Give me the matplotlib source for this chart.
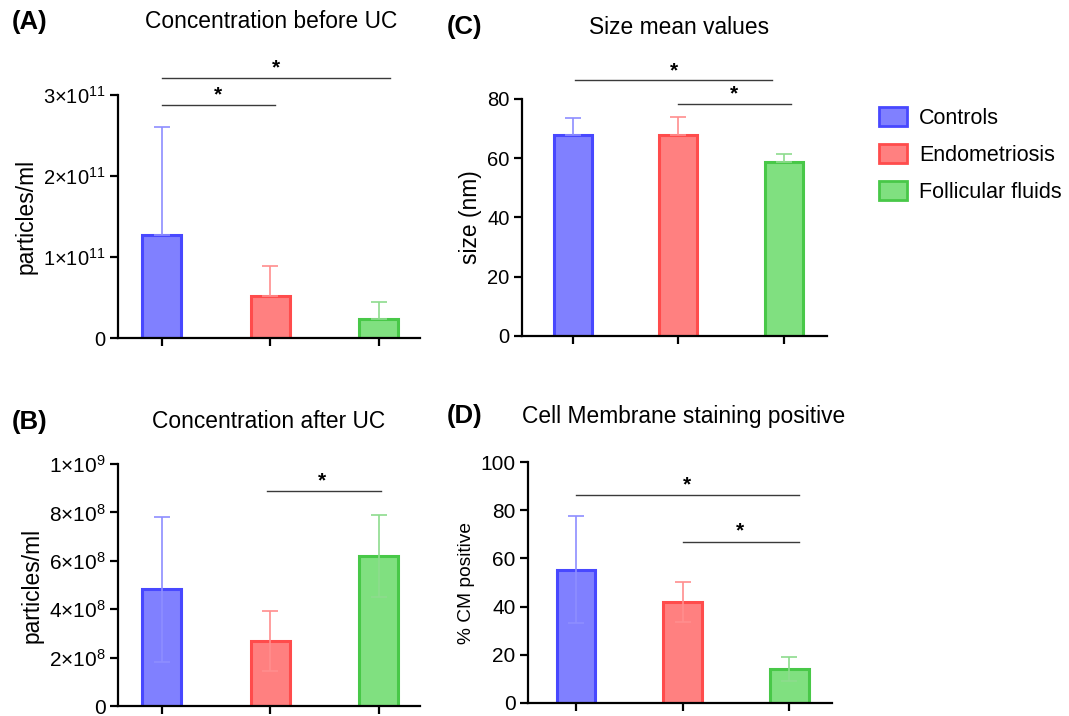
import numpy as np
import matplotlib
matplotlib.use("Agg")
import matplotlib.pyplot as plt
from matplotlib.patches import Patch

plt.rcParams['font.family'] = ['Liberation Sans', 'DejaVu Sans']
plt.rcParams['mathtext.fontset'] = 'custom'
plt.rcParams['mathtext.rm'] = 'Liberation Sans'
plt.rcParams['mathtext.it'] = 'Liberation Sans'

# ── data ──
groups = ["Controls", "Endometriosis", "Follicular fluids"]

conc_before = [1.27e11, 0.52e11, 0.235e11]
conc_before_err = [1.33e11, 0.37e11, 0.205e11]

conc_after = [4.83e8, 2.69e8, 6.21e8]
conc_after_err = [3.0e8, 1.25e8, 1.7e8]

size_mean = [67.9, 68.0, 58.8]
size_err = [5.7, 6.0, 2.7]

cm_positive = [55.3, 42.0, 14.1]
cm_err = [22.2, 8.2, 4.8]

fills = ["#8080FF", "#FF8080", "#80E080"]
edges = ["#4848FF", "#FF4C4C", "#48C848"]
errc = ["#8E8EFF", "#FF8E8E", "#8EDC8E"]

W, H = 1069, 716
fig = plt.figure(figsize=(W / 100, H / 100), dpi=100)


def px_axes(l, r, b, t):
    return fig.add_axes([l / W, 1 - b / H, (r - l) / W, (b - t) / H])


def bar_panel(ax, vals, errs, both, ylim, yticks, ylabels, ylabel,
              xlim, tick_fs, label_fs):
    x = np.arange(len(vals))
    ax.bar(x, vals, width=0.36, color=fills, edgecolor=edges, linewidth=2.2, zorder=2)
    for i in range(len(vals)):
        lo = errs[i] if both else 0
        ax.errorbar(x[i], vals[i], yerr=[[lo], [errs[i]]], fmt='none',
                    ecolor=errc[i], elinewidth=1.2, capsize=5.5, capthick=1.2, zorder=3)
    ax.set_xlim(*xlim)
    ax.set_ylim(*ylim)
    ax.set_xticks(x)
    ax.set_xticklabels([])
    ax.set_yticks(yticks)
    ax.set_yticklabels(ylabels, fontsize=tick_fs)
    ax.set_ylabel(ylabel, fontsize=label_fs)
    for s in ["top", "right"]:
        ax.spines[s].set_visible(False)
    for s in ["left", "bottom"]:
        ax.spines[s].set_linewidth(1.6)
    ax.tick_params(direction='out', length=6, width=1.6, pad=3)


def sig(ax, x0, x1, y, sx, sy):
    ax.plot([x0, x1], [y, y], color="#3a3a3a", lw=1.0, clip_on=False, zorder=4)
    ax.text(sx, sy, "*", ha='center', va='center', fontsize=15, fontweight='bold',
            clip_on=False)


# (A) concentration before UC
axA = px_axes(118, 420, 338, 95)
bar_panel(axA, conc_before, conc_before_err, False, (0, 3e11),
          [0, 1e11, 2e11, 3e11],
          ["0", r"$1{\times}10^{11}$", r"$2{\times}10^{11}$", r"$3{\times}10^{11}$"],
          "particles/ml", (-0.405, 2.38), 14.5, 16.4)
sig(axA, 0, 2.1, 3.21e11, 1.05, 3.33e11)
sig(axA, 0, 1.04, 2.88e11, 0.52, 3.0e11)

# (B) concentration after UC
axB = px_axes(118, 420, 706, 464)
bar_panel(axB, conc_after, conc_after_err, True, (0, 1e9),
          [0, 2e8, 4e8, 6e8, 8e8, 1e9],
          ["0", r"$2{\times}10^{8}$", r"$4{\times}10^{8}$", r"$6{\times}10^{8}$",
           r"$8{\times}10^{8}$", r"$1{\times}10^{9}$"],
          "particles/ml", (-0.405, 2.38), 15, 16.4)
sig(axB, 0.97, 2.02, 0.89e9, 1.48, 0.93e9)

# (C) size mean values
axC = px_axes(522, 827, 336, 99)
bar_panel(axC, size_mean, size_err, False, (0, 80), [0, 20, 40, 60, 80],
          ["0", "20", "40", "60", "80"], "size (nm)", (-0.48, 2.41), 14.5, 16.4)
sig(axC, 0.02, 1.89, 86.4, 0.96, 89.5)
sig(axC, 1.0, 2.07, 78.4, 1.53, 81.8)

# (D) cell membrane staining
axD = px_axes(528, 832, 703, 462)
bar_panel(axD, cm_positive, cm_err, True, (0, 100), [0, 20, 40, 60, 80, 100],
          ["0", "20", "40", "60", "80", "100"], "% CM positive", (-0.45, 2.4), 15, 13.8)
sig(axD, 0, 2.09, 86.5, 1.04, 90.5)
sig(axD, 1.0, 2.09, 67.0, 1.54, 71.5)

# titles and panel letters
fig.text(271 / W, 1 - 22 / H, "Concentration before UC", ha='center', va='center', fontsize=16.4)
fig.text(269 / W, 1 - 422 / H, "Concentration after UC", ha='center', va='center', fontsize=16.4)
fig.text(679 / W, 1 - 27 / H, "Size mean values", ha='center', va='center', fontsize=16.4)
fig.text(522 / W, 1 - 416 / H, "Cell Membrane staining positive", ha='left', va='center', fontsize=16.4)
for lbl, x, y in [("(A)", 12, 22), ("(B)", 12, 422), ("(C)", 447, 27), ("(D)", 447, 416)]:
    fig.text(x / W, 1 - y / H, lbl, ha='left', va='center', fontsize=18.5, fontweight='bold')

# legend
handles = [Patch(facecolor=f, edgecolor=e, linewidth=2) for f, e in zip(fills, edges)]
fig.legend(handles, groups, loc='upper left', bbox_to_anchor=(879 / W, 1 - 107 / H),
           frameon=False, fontsize=15.5, handlelength=1.3, handleheight=0.95,
           labelspacing=0.72, handletextpad=0.55, borderpad=0, borderaxespad=0)

fig.savefig("out.png", dpi=100)
